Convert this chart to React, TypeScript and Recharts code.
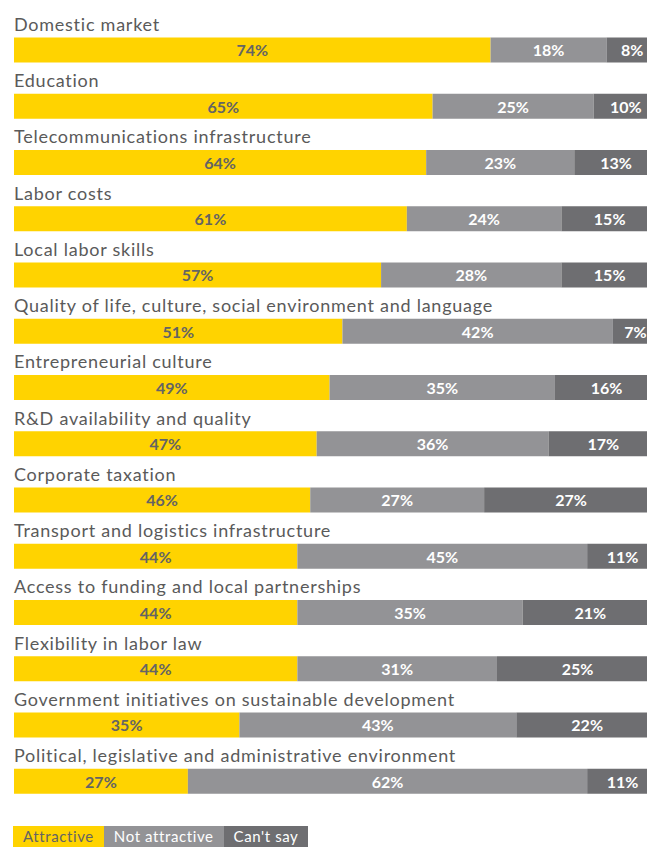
import { BarChart, Bar, XAxis, YAxis, LabelList } from "recharts";

const categories = [
  "Domestic market",
  "Education",
  "Telecommunications infrastructure",
  "Labor costs",
  "Local labor skills",
  "Quality of life, culture, social environment and language",
  "Entrepreneurial culture",
  "R&D availability and quality",
  "Corporate taxation",
  "Transport and logistics infrastructure",
  "Access to funding and local partnerships",
  "Flexibility in labor law",
  "Government initiatives on sustainable development",
  "Political, legislative and administrative environment",
];

const attractive = [74, 65, 64, 61, 57, 51, 49, 47, 46, 44, 44, 44, 35, 27];
const notAttractive = [18, 25, 23, 24, 28, 42, 35, 36, 27, 45, 35, 31, 43, 62];
const cantSay = [8, 10, 13, 15, 15, 7, 16, 17, 27, 11, 21, 25, 22, 11];

const series = [
  { key: "a", name: "Attractive", color: "#FFD300", text: "#646464" },
  { key: "n", name: "Not attractive", color: "#939396", text: "#ffffff" },
  { key: "c", name: "Can't say", color: "#6E6E71", text: "#ffffff" },
];

const data = categories.map((name, i) => ({
  name,
  a: attractive[i],
  n: notAttractive[i],
  c: cantSay[i],
}));

const FONT = "Lato, 'Open Sans', sans-serif";

const CategoryLabel = (props: any) => {
  const { x, y, value } = props;
  return (
    <text
      x={x}
      y={y - 6.5}
      fill="#5a5a5a"
      fontSize={18}
      letterSpacing={0.75}
      fontFamily={FONT}
    >
      {value}
    </text>
  );
};

const makeValueLabel = (fill: string) => (props: any) => {
  const { x, y, width, height, value } = props;
  return (
    <text
      x={x + width / 2}
      y={y + height / 2}
      fill={fill}
      fontSize={16}
      fontWeight={700}
      fontFamily={FONT}
      textAnchor="middle"
      dominantBaseline="central"
    >
      {value}%
    </text>
  );
};

export default function App() {
  return (
    <div
      style={{
        position: "fixed",
        left: 0,
        top: 0,
        width: 647,
        height: 847,
        overflow: "hidden",
        background: "#fff",
      }}
    >
      <BarChart
        width={658}
        height={809}
        data={data}
        layout="vertical"
        margin={{ top: 21.4, right: 0, bottom: 0, left: 14 }}
        barCategoryGap={0}
      >
        <XAxis type="number" domain={[0, 100]} hide />
        <YAxis type="category" dataKey="name" hide width={0} />
        {series.map((s, idx) => (
          <Bar
            key={s.key}
            dataKey={s.key}
            name={s.name}
            stackId="s"
            fill={s.color}
            barSize={25}
            isAnimationActive={false}
          >
            {idx === 0 && <LabelList dataKey="name" content={CategoryLabel} />}
            <LabelList dataKey={s.key} content={makeValueLabel(s.text)} />
          </Bar>
        ))}
      </BarChart>
      <div
        style={{
          position: "absolute",
          left: 13,
          top: 826,
          display: "flex",
          fontFamily: FONT,
          fontSize: 15,
          letterSpacing: 0.6,
        }}
      >
        {series.map((s) => (
          <div
            key={s.key}
            style={{
              background: s.color,
              color: s.text,
              height: 21,
              lineHeight: "21px",
              padding: "0 10px",
              whiteSpace: "nowrap",
            }}
          >
            {s.name}
          </div>
        ))}
      </div>
    </div>
  );
}
